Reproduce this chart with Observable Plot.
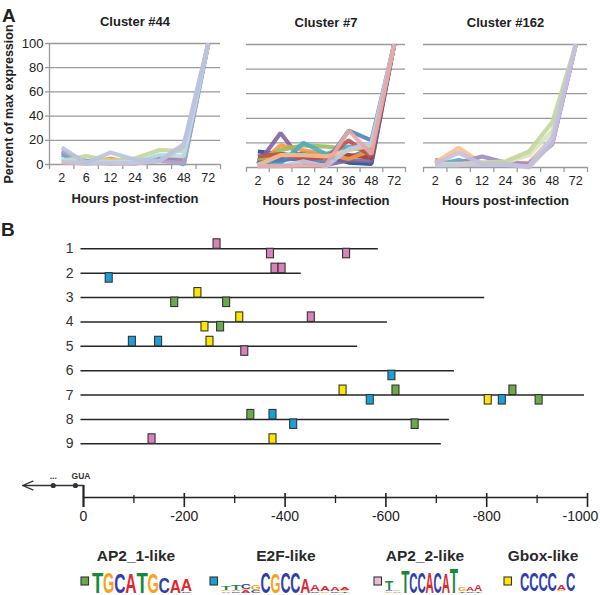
<!DOCTYPE html>
<html><head><meta charset="utf-8">
<script src="https://cdn.jsdelivr.net/npm/d3@7"></script>
<script src="https://cdn.jsdelivr.net/npm/@observablehq/plot@0.6"></script>
<style>
html,body{margin:0;padding:0;background:#fff;}
#fig{position:relative;width:600px;height:595px;overflow:hidden;font-family:"Liberation Sans",Arial,sans-serif;color:#222;background:#fff;}
#fig > *{position:absolute;}
.panel-label{font-weight:bold;font-size:19px;line-height:1;}
</style></head><body><div id="fig"></div>
<script>
// ---------------- DATA ----------------
const hours = ["2", "6", "12", "24", "36", "48", "72"];
const yTicks = [0, 20, 40, 60, 80, 100];

const cluster44Colors = ["#f79646", "#4bacc6", "#9c88b8", "#b3a2c7", "#c3d69b", "#b7dee8", "#ccc1da", "#b9c3df"];
const cluster44Values = [
  [2, 1, 5, 1, 4, 5, 100],
  [8, 1, 2, 1, 7, 0, 100],
  [10, 3, 1, 2, 5, 3, 100],
  [11, 2, 1, 1, 3, 1, 100],
  [3, 7, 3, 5, 12, 11, 100],
  [4, 2, 2, 2, 8, 7, 100],
  [2, 1, 1, 1, 3, 15, 100],
  [14, 1, 10, 4, 3, 17, 100]
];

const cluster7Colors = ["#1f4e8c", "#8064a2", "#31859c", "#953735", "#f79646", "#9bbb59", "#4bacc6", "#4f81bd", "#c0504d", "#fac090", "#b9cde5", "#e6a9a8"];
const cluster7Values = [
  [13, 11, 9, 9, 4, 3, 100],
  [3, 28, 4, 2, 6, 5, 100],
  [8, 5, 12, 10, 8, 15, 100],
  [5, 8, 6, 9, 10, 8, 100],
  [2, 18, 14, 11, 7, 14, 100],
  [6, 14, 18, 17, 15, 16, 100],
  [1, 3, 20, 11, 17, 12, 100],
  [4, 6, 8, 4, 30, 22, 100],
  [9, 11, 7, 8, 22, 9, 100],
  [2, 10, 10, 9, 14, 18, 100],
  [1, 1, 5, 1, 15, 20, 100],
  [1, 1, 2, 2, 30, 11, 100]
];

const cluster162Colors = ["#c0504d", "#4bacc6", "#fac090", "#9d8ac0", "#d7e4bd", "#c3d69b", "#c5cbe3", "#c6bfdc"];
const cluster162Values = [
  [6, 2, 2, 2, 3, 20, 100],
  [2, 6, 2, 2, 3, 22, 100],
  [4, 16, 3, 3, 4, 24, 100],
  [2, 4, 9, 4, 3, 19, 100],
  [3, 3, 4, 4, 10, 30, 100],
  [2, 2, 4, 5, 13, 37, 100],
  [2, 2, 2, 2, 1, 25, 100],
  [3, 12, 3, 3, 0, 20, 100]
];

const promoterRows = [1, 2, 3, 4, 5, 6, 7, 8, 9];
const promoterEnds = [-585, -432, -796, -603, -544, -736, -994, -726, -710];
const lineStart = 5;

const motifs = ["AP2_1-like", "E2F-like", "AP2_2-like", "Gbox-like"];
const motifColors = ["#6aaa4a", "#1aa0d8", "#d982b8", "#ffe600"];
const legendSquareColors = ["#6aaa4a", "#1aa0d8", "#ecbcd6", "#ffe600"];

// [row, position, motif, side] side: "up" above the line, "down" below
const sites = [
  [1, -265, "AP2_2-like", "up"], [1, -371, "AP2_2-like", "down"], [1, -522, "AP2_2-like", "down"],
  [2, -51, "E2F-like", "down"], [2, -380, "AP2_2-like", "up"], [2, -394, "AP2_2-like", "up"],
  [3, -181, "AP2_1-like", "down"], [3, -227, "Gbox-like", "up"], [3, -284, "AP2_1-like", "down"],
  [4, -241, "Gbox-like", "down"], [4, -272, "AP2_1-like", "down"], [4, -310, "Gbox-like", "up"], [4, -452, "AP2_2-like", "up"],
  [5, -97, "E2F-like", "up"], [5, -149, "E2F-like", "up"], [5, -251, "Gbox-like", "up"], [5, -320, "AP2_2-like", "down"],
  [6, -612, "E2F-like", "down"],
  [7, -515, "Gbox-like", "up"], [7, -569, "E2F-like", "down"], [7, -620, "AP2_1-like", "up"], [7, -803, "Gbox-like", "down"],
  [7, -831, "E2F-like", "down"], [7, -852, "AP2_1-like", "up"], [7, -904, "AP2_1-like", "down"],
  [8, -332, "AP2_1-like", "up"], [8, -376, "E2F-like", "up"], [8, -417, "E2F-like", "down"], [8, -658, "AP2_1-like", "down"],
  [9, -136, "AP2_2-like", "up"], [9, -376, "Gbox-like", "up"]
];

const rulerMajor = [-200, -400, -600, -800, -1000];
const rulerMinor = [-100, -300, -500, -700, -900];
const rulerLabels = [0, -200, -400, -600, -800];
const rulerEndLabel = [-1000];
const upstreamArrow = [{from: 0, to: 121}];
const transcriptDots = [60, 16];
const transcriptLabels = [{x: 60, text: "..."}, {x: 5, text: "GUA"}];

// sequence logos: each position is a stack listed bottom -> top, [letter, relative height]
const logoAP2_1 = [[["T", 1.0]], [["G", 1.0]], [["C", 0.95]], [["A", 0.95]], [["T", 1.0]], [["G", 0.95]], [["C", 0.78]], [["A", 0.62]], [["C", 0.06], ["A", 0.55]]];
const logoE2F = [
  [["A", 0.08], ["G", 0.06], ["T", 0.2]], [["C", 0.08], ["A", 0.06], ["T", 0.22]], [["A", 0.1], ["G", 0.08], ["C", 0.22]], [["C", 0.12], ["G", 0.22]],
  [["C", 1.0]], [["G", 0.95]], [["C", 1.0]], [["C", 1.0]], [["A", 0.72]],
  [["C", 0.06], ["A", 0.3]], [["G", 0.06], ["A", 0.26]], [["C", 0.06], ["A", 0.2]], [["T", 0.05], ["G", 0.06], ["A", 0.14]]
];
const logoAP2_2 = [
  [["G", 0.08], ["C", 0.06], ["T", 0.45]], [["A", 0.05], ["G", 0.08]], [["T", 1.05]], [["C", 1.0]], [["C", 1.0]], [["A", 1.0]],
  [["C", 1.0]], [["A", 0.95]], [["T", 1.2]], [["T", 0.05], ["G", 0.18]], [["C", 0.08], ["A", 0.2]], [["T", 0.05], ["A", 0.28]]
];
const logoGbox = [[["C", 0.88]], [["C", 0.88]], [["C", 0.88]], [["C", 0.88]], [["G", 0.06], ["A", 0.22]], [["C", 0.88]]];

// ---------------- LAYOUT ----------------
const fig = document.getElementById("fig");
const FONT = "'Liberation Sans', Arial, sans-serif";
const GRID = "#9a9a9a";

function label(text, left, top) {
  const d = document.createElement("div");
  d.className = "panel-label";
  d.textContent = text;
  d.style.left = left + "px";
  d.style.top = top + "px";
  fig.appendChild(d);
}
label("A", 2, 6);
label("B", 1, 220);

function clusterPlot(opt) {
  const {title, colors, values, left, width, mL, mR, mT, mB, yAxis, xlabDy} = opt;
  const boundaries = d3.range(hours.length + 1).map(i => i - 0.5);
  const marks = [
    Plot.ruleY(yTicks, {y: d => d, stroke: GRID, strokeWidth: 1.3, insetLeft: yAxis ? -4 : 0}),
    Plot.ruleX(boundaries, {x: d => d, y1: () => 0, y2: () => 0, insetBottom: -5, stroke: GRID, strokeWidth: 1.3})
  ];
  if (yAxis) marks.push(Plot.ruleX([-0.5], {x: d => d, stroke: GRID, strokeWidth: 1.3}));
  values.forEach((v, k) => {
    marks.push(Plot.lineY(v, {x: (d, i) => i, y: d => d, stroke: colors[k], strokeWidth: 4.2, strokeOpacity: 0.9, strokeLinejoin: "miter", strokeLinecap: "butt"}));
  });
  marks.push(Plot.text(hours, {x: (d, i) => i, frameAnchor: "bottom", lineAnchor: "middle", dy: 13, text: d => d, fontSize: 12.5, fill: "#222"}));
  if (yAxis) {
    marks.push(Plot.text(yTicks, {y: d => d, frameAnchor: "left", dx: -6, textAnchor: "end", lineAnchor: "middle", text: d => String(d), fontSize: 13, fill: "#222"}));
    marks.push(Plot.text(["Percent of max expression"], {frameAnchor: "left", dx: -41, rotate: -90, textAnchor: "middle", lineAnchor: "middle", text: d => d, fontSize: 12.5, fontWeight: "bold", fill: "#222"}));
  }
  marks.push(Plot.text([title], {frameAnchor: "top", lineAnchor: "middle", dy: -22, text: d => d, fontSize: 13, fontWeight: "bold", fill: "#222"}));
  marks.push(Plot.text(["Hours post-infection"], {frameAnchor: "bottom", lineAnchor: "middle", dy: xlabDy, text: d => d, fontSize: 13, fontWeight: "bold", fill: "#222"}));
  const p = Plot.plot({
    width, height: 215,
    marginLeft: mL, marginRight: mR, marginTop: mT, marginBottom: mB,
    x: {domain: [-0.5, hours.length - 0.5], axis: null},
    y: {domain: [0, 100], axis: null},
    style: {fontFamily: FONT, background: "transparent", overflow: "visible", color: "#222"},
    marks
  });
  p.style.left = left + "px";
  p.style.top = "0px";
  fig.appendChild(p);
}

clusterPlot({title: "Cluster #44", colors: cluster44Colors, values: cluster44Values, left: 0, width: 230, mL: 49, mR: 10, mT: 43, mB: 51, yAxis: true, xlabDy: 34});
clusterPlot({title: "Cluster #7", colors: cluster7Colors, values: cluster7Values, left: 230, width: 185, mL: 16, mR: 10, mT: 44, mB: 48, yAxis: false, xlabDy: 33});
clusterPlot({title: "Cluster #162", colors: cluster162Colors, values: cluster162Values, left: 415, width: 185, mL: 8, mR: 13, mT: 44, mB: 48, yAxis: false, xlabDy: 33});

// ---------------- PANEL B: promoter map ----------------
const rowsData = promoterRows.map((r, i) => ({row: r, end: promoterEnds[i]}));
const siteData = sites.map(([row, pos, motif, side]) => ({row, pos, motif, side}));

const mapPlot = Plot.plot({
  width: 600, height: 230,
  marginLeft: 83, marginRight: 13, marginTop: 23.3, marginBottom: 11.7,
  x: {domain: [0, -1000], axis: null},
  y: {domain: [1, 9], reverse: true, axis: null},
  color: {domain: motifs, range: motifColors},
  style: {fontFamily: FONT, background: "transparent", overflow: "visible", color: "#222"},
  marks: [
    Plot.ruleY(rowsData, {y: "row", x1: () => lineStart, x2: "end", stroke: "#262626", strokeWidth: 1.5}),
    Plot.text(rowsData, {y: "row", x: () => 0, dx: -10, textAnchor: "end", text: d => String(d.row), fontSize: 14, fill: "#333"}),
    Plot.rect(siteData.filter(d => d.side === "up"), {x1: "pos", x2: "pos", y1: "row", y2: "row", insetLeft: -3.5, insetRight: -3.5, insetTop: -9.5, insetBottom: 0, fill: "motif", stroke: "#333", strokeWidth: 1.1}),
    Plot.rect(siteData.filter(d => d.side === "down"), {x1: "pos", x2: "pos", y1: "row", y2: "row", insetLeft: -3.5, insetRight: -3.5, insetTop: 0, insetBottom: -9.5, fill: "motif", stroke: "#333", strokeWidth: 1.1})
  ]
});
mapPlot.style.left = "0px";
mapPlot.style.top = "225px";
fig.appendChild(mapPlot);

// ruler
const rulerPlot = Plot.plot({
  width: 600, height: 65,
  marginLeft: 83, marginRight: 13, marginTop: 20, marginBottom: 33,
  x: {domain: [0, -1000], axis: null},
  y: {domain: [0, 1], axis: null},
  style: {fontFamily: FONT, background: "transparent", overflow: "visible", color: "#222"},
  marks: [
    Plot.ruleY([0], {y: d => d, x1: () => 0, x2: () => -1000, stroke: "#222", strokeWidth: 1.6}),
    Plot.ruleX(rulerMajor, {x: d => d, y1: () => 0, y2: () => 0, insetTop: -4, insetBottom: -10, stroke: "#222", strokeWidth: 1.6}),
    Plot.ruleX(rulerMinor, {x: d => d, y1: () => 0, y2: () => 0, insetTop: -2, insetBottom: -6, stroke: "#222", strokeWidth: 1.3}),
    Plot.ruleX([0], {x: d => d, y1: () => 1, y2: () => 0, insetBottom: -10, stroke: "#222", strokeWidth: 2.2}),
    Plot.arrow(upstreamArrow, {x1: "from", x2: "to", y1: () => 1, y2: () => 1, headLength: 13, headAngle: 45, stroke: "#333", strokeWidth: 1.3}),
    Plot.dot(transcriptDots, {x: d => d, y: () => 1, r: 2.6, fill: "#333", stroke: null}),
    Plot.text(transcriptLabels, {x: "x", y: () => 1, dy: -9.5, text: "text", fontSize: 8.5, fontWeight: "bold", fill: "#333"}),
    Plot.text(rulerLabels, {x: d => d, y: () => 0, dy: 19, text: d => String(d), fontSize: 14, fill: "#222"}),
    Plot.text(rulerEndLabel, {x: d => d, y: () => 0, dy: 19, dx: -7, text: d => String(d), fontSize: 14, fill: "#222"})
  ]
});
rulerPlot.style.left = "0px";
rulerPlot.style.top = "465px";
fig.appendChild(rulerPlot);

// ---------------- LEGEND with sequence logos ----------------
const letterColor = {A: "#e3262b", C: "#2f3fae", G: "#f6a31c", T: "#178a3a"};
const advance = {A: 0.722, C: 0.722, G: 0.778, T: 0.611};
const legendTop = 540;
const legendSvg = d3.create("svg").attr("width", 600).attr("height", 55)
  .style("left", "0px").style("top", legendTop + "px").style("overflow", "visible");

const legendItems = [
  {title: motifs[0], cx: 136, sq: 81, logo: logoAP2_1, x0: 92, w: 11.1, base: 592.5, H: 21},
  {title: motifs[1], cx: 286, sq: 210, logo: logoE2F, x0: 221, w: 9.9, base: 592.5, H: 21},
  {title: motifs[2], cx: 425, sq: 374, logo: logoAP2_2, x0: 385, w: 8.1, base: 592.5, H: 21},
  {title: motifs[3], cx: 543, sq: 504, logo: logoGbox, x0: 520, w: 9.2, base: 591, H: 21}
];
legendItems.forEach((it, k) => {
  legendSvg.append("text").attr("x", it.cx).attr("y", 556 - legendTop).attr("dy", "0.35em")
    .attr("text-anchor", "middle").attr("font-family", FONT).attr("font-weight", "bold")
    .attr("font-size", 15.5).attr("fill", "#2a2a2a").text(it.title);
  legendSvg.append("rect").attr("x", it.sq).attr("y", 577 - legendTop).attr("width", 7.5).attr("height", 8)
    .attr("fill", legendSquareColors[k]).attr("stroke", "#333").attr("stroke-width", 1.1);
  it.logo.forEach((stack, i) => {
    let y = it.base - legendTop;
    stack.forEach(([ch, h]) => {
      const hpx = h * it.H;
      const fs = hpx / 0.716;
      const sx = (it.w * 1.02) / (advance[ch] * fs);
      legendSvg.append("text")
        .attr("transform", `translate(${it.x0 + i * it.w},${y}) scale(${sx},1)`)
        .attr("font-family", FONT).attr("font-weight", "bold").attr("font-size", fs)
        .attr("fill", letterColor[ch]).text(ch);
      y -= hpx;
    });
  });
});
fig.appendChild(legendSvg.node());
</script></body></html>
